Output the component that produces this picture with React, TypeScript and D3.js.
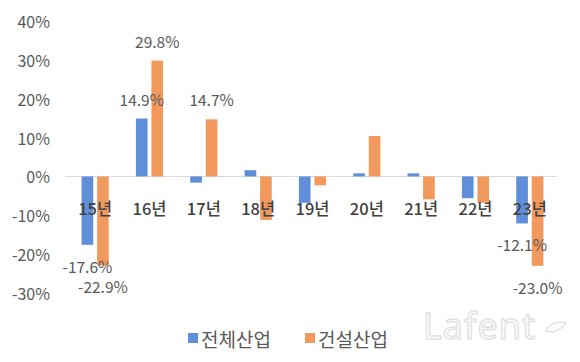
import * as d3 from "d3";

// year categories and the two series (%)
const categories = ["15년", "16년", "17년", "18년", "19년", "20년", "21년", "22년", "23년"];
const seriesNames = ["전체산업", "건설산업"];
const allIndustry = [-17.6, 14.9, -1.6, 1.6, -6.8, 0.8, 0.8, -5.6, -12.1];
const construction = [-22.9, 29.8, 14.7, -11.2, -2.3, 10.4, -5.9, -6.8, -23.0];
const yTicks = [-30, -20, -10, 0, 10, 20, 30, 40];
// which values carry a data label: [series index, category index]
const labelled: [number, number][] = [
  [0, 0], [1, 0], [0, 1], [1, 1], [1, 2], [0, 8], [1, 8],
];

const W = 580;
const H = 362;
const COLORS = ["#5E8FD8", "#F29A5E"];
const FONT = "'Noto Sans CJK KR', 'Noto Sans', sans-serif";

const App = () => {
  const series = [allIndustry, construction];

  const x0 = d3
    .scaleBand()
    .domain(categories)
    .range([68, 557])
    .paddingInner(0.5)
    .paddingOuter(0.25);

  const x1 = d3
    .scaleBand()
    .domain(seriesNames)
    .range([0, x0.bandwidth()])
    .paddingInner(0.25);

  const y = d3.scaleLinear().domain([-30, 40]).range([293, 21]);

  const bars = series.flatMap((vals, s) =>
    vals.map((v, i) => {
      const bx = (x0(categories[i]) ?? 0) + (x1(seriesNames[s]) ?? 0);
      return (
        <rect
          key={`${s}-${i}`}
          x={bx}
          y={Math.min(y(v), y(0))}
          width={x1.bandwidth()}
          height={Math.abs(y(v) - y(0))}
          fill={COLORS[s]}
        />
      );
    })
  );

  const labels = labelled.map(([s, i]) => {
    const v = series[s][i];
    const cx = (x0(categories[i]) ?? 0) + (x1(seriesNames[s]) ?? 0) + x1.bandwidth() / 2;
    const ly = v >= 0 ? y(v) - 20 : y(v) + 21;
    return (
      <text
        key={`l-${s}-${i}`}
        x={cx}
        y={ly}
        textAnchor="middle"
        dominantBaseline="central"
        fontSize={15.5}
        fill="#595959"
      >
        {v.toFixed(1)}%
      </text>
    );
  });

  return (
    <svg
      width={W}
      height={H}
      style={{ position: "absolute", left: 0, top: 0, background: "#fff" }}
      fontFamily={FONT}
    >
      {yTicks.map((t) => (
        <text
          key={t}
          x={50}
          y={y(t)}
          textAnchor="end"
          dominantBaseline="central"
          fontSize={16}
          fill="#595959"
        >
          {t}%
        </text>
      ))}

      <line x1={65} x2={557} y1={y(0)} y2={y(0)} stroke="#d3d8e0" strokeWidth={1} />

      {bars}

      {categories.map((c) => (
        <text
          key={c}
          x={(x0(c) ?? 0) + x0.bandwidth() / 2}
          y={208}
          textAnchor="middle"
          dominantBaseline="central"
          fontSize={16.5}
          fontWeight={500}
          fill="#404040"
        >
          {c}
        </text>
      ))}

      {labels}

      {/* legend */}
      {seriesNames.map((n, s) => {
        const lx = s === 0 ? 188 : 305;
        return (
          <g key={n}>
            <rect x={lx} y={333} width={10} height={10} fill={COLORS[s]} />
            <text x={lx + 13} y={338} dominantBaseline="central" fontSize={19} fill="#595959">
              {n}
            </text>
          </g>
        );
      })}

      {/* watermark */}
      <text
        x={423}
        y={339}
        fontSize={36}
        fontFamily="'Noto Sans', sans-serif"
        fill="#fff"
        stroke="#e2e2e2"
        strokeWidth={1.5}
        letterSpacing={1}
      >
        Lafent
      </text>
      <path
        d="M546,331 C550,322 560,321 566,323 C561,330 553,333 546,331 Z"
        fill="#fff"
        stroke="#e2e2e2"
        strokeWidth={1.5}
      />
    </svg>
  );
};

export default App;
